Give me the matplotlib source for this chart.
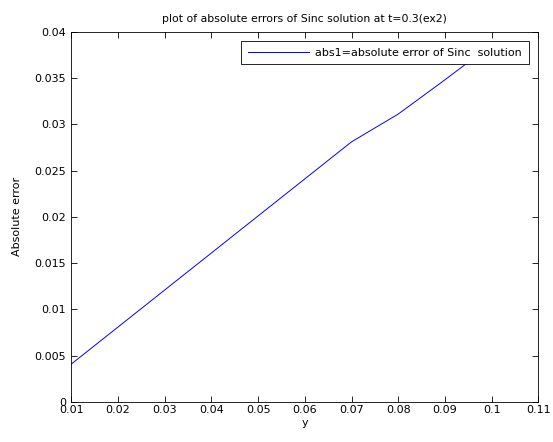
import matplotlib
matplotlib.use("Agg")
import matplotlib.pyplot as plt

# values
y_vals = [0.01, 0.02, 0.03, 0.04, 0.05, 0.06, 0.07, 0.08, 0.09, 0.10]
abs1 = [0.0041, 0.0081, 0.0121, 0.0161, 0.0201, 0.0241, 0.0281, 0.0311, 0.0348, 0.0386]

x_ticks = [0.01, 0.02, 0.03, 0.04, 0.05, 0.06, 0.07, 0.08, 0.09, 0.1, 0.11]
x_labels = ["0.01", "0.02", "0.03", "0.04", "0.05", "0.06", "0.07", "0.08", "0.09", "0.1", "0.11"]
y_ticks = [0, 0.005, 0.01, 0.015, 0.02, 0.025, 0.03, 0.035, 0.04]
y_labels = ["0", "0.005", "0.01", "0.015", "0.02", "0.025", "0.03", "0.035", "0.04"]

plt.rcParams["font.family"] = ["DejaVu Sans"]
plt.rcParams["font.size"] = 8

fig = plt.figure(figsize=(5.53, 4.42), dpi=100)
ax = fig.add_axes([0.1290, 0.0905, 0.8444, 0.8378])

ax.plot(y_vals, abs1, color="#0000ff", linewidth=0.7,
        label="abs1=absolute error of Sinc  solution")

ax.set_xlim(0.01, 0.11)
ax.set_ylim(0, 0.04)
ax.set_xticks(x_ticks)
ax.set_xticklabels(x_labels)
ax.set_yticks(y_ticks)
ax.set_yticklabels(y_labels)
ax.tick_params(direction="in", length=4, width=0.6, top=True, right=True, pad=4)
ax.tick_params(axis="x", pad=2)
for s in ax.spines.values():
    s.set_linewidth(0.6)

ax.set_xlabel("y", labelpad=2)
ax.set_ylabel("Absolute error", labelpad=9)
ax.set_title("plot of absolute errors of Sinc solution at t=0.3(ex2)", fontsize=7.8, pad=7)

leg = ax.legend(loc="upper right", fancybox=False, edgecolor="black", framealpha=1,
                handlelength=5.5, handletextpad=0.6, borderaxespad=0.85, borderpad=0.6)
leg.get_frame().set_linewidth(0.6)

fig.savefig("out.png", dpi=100)
